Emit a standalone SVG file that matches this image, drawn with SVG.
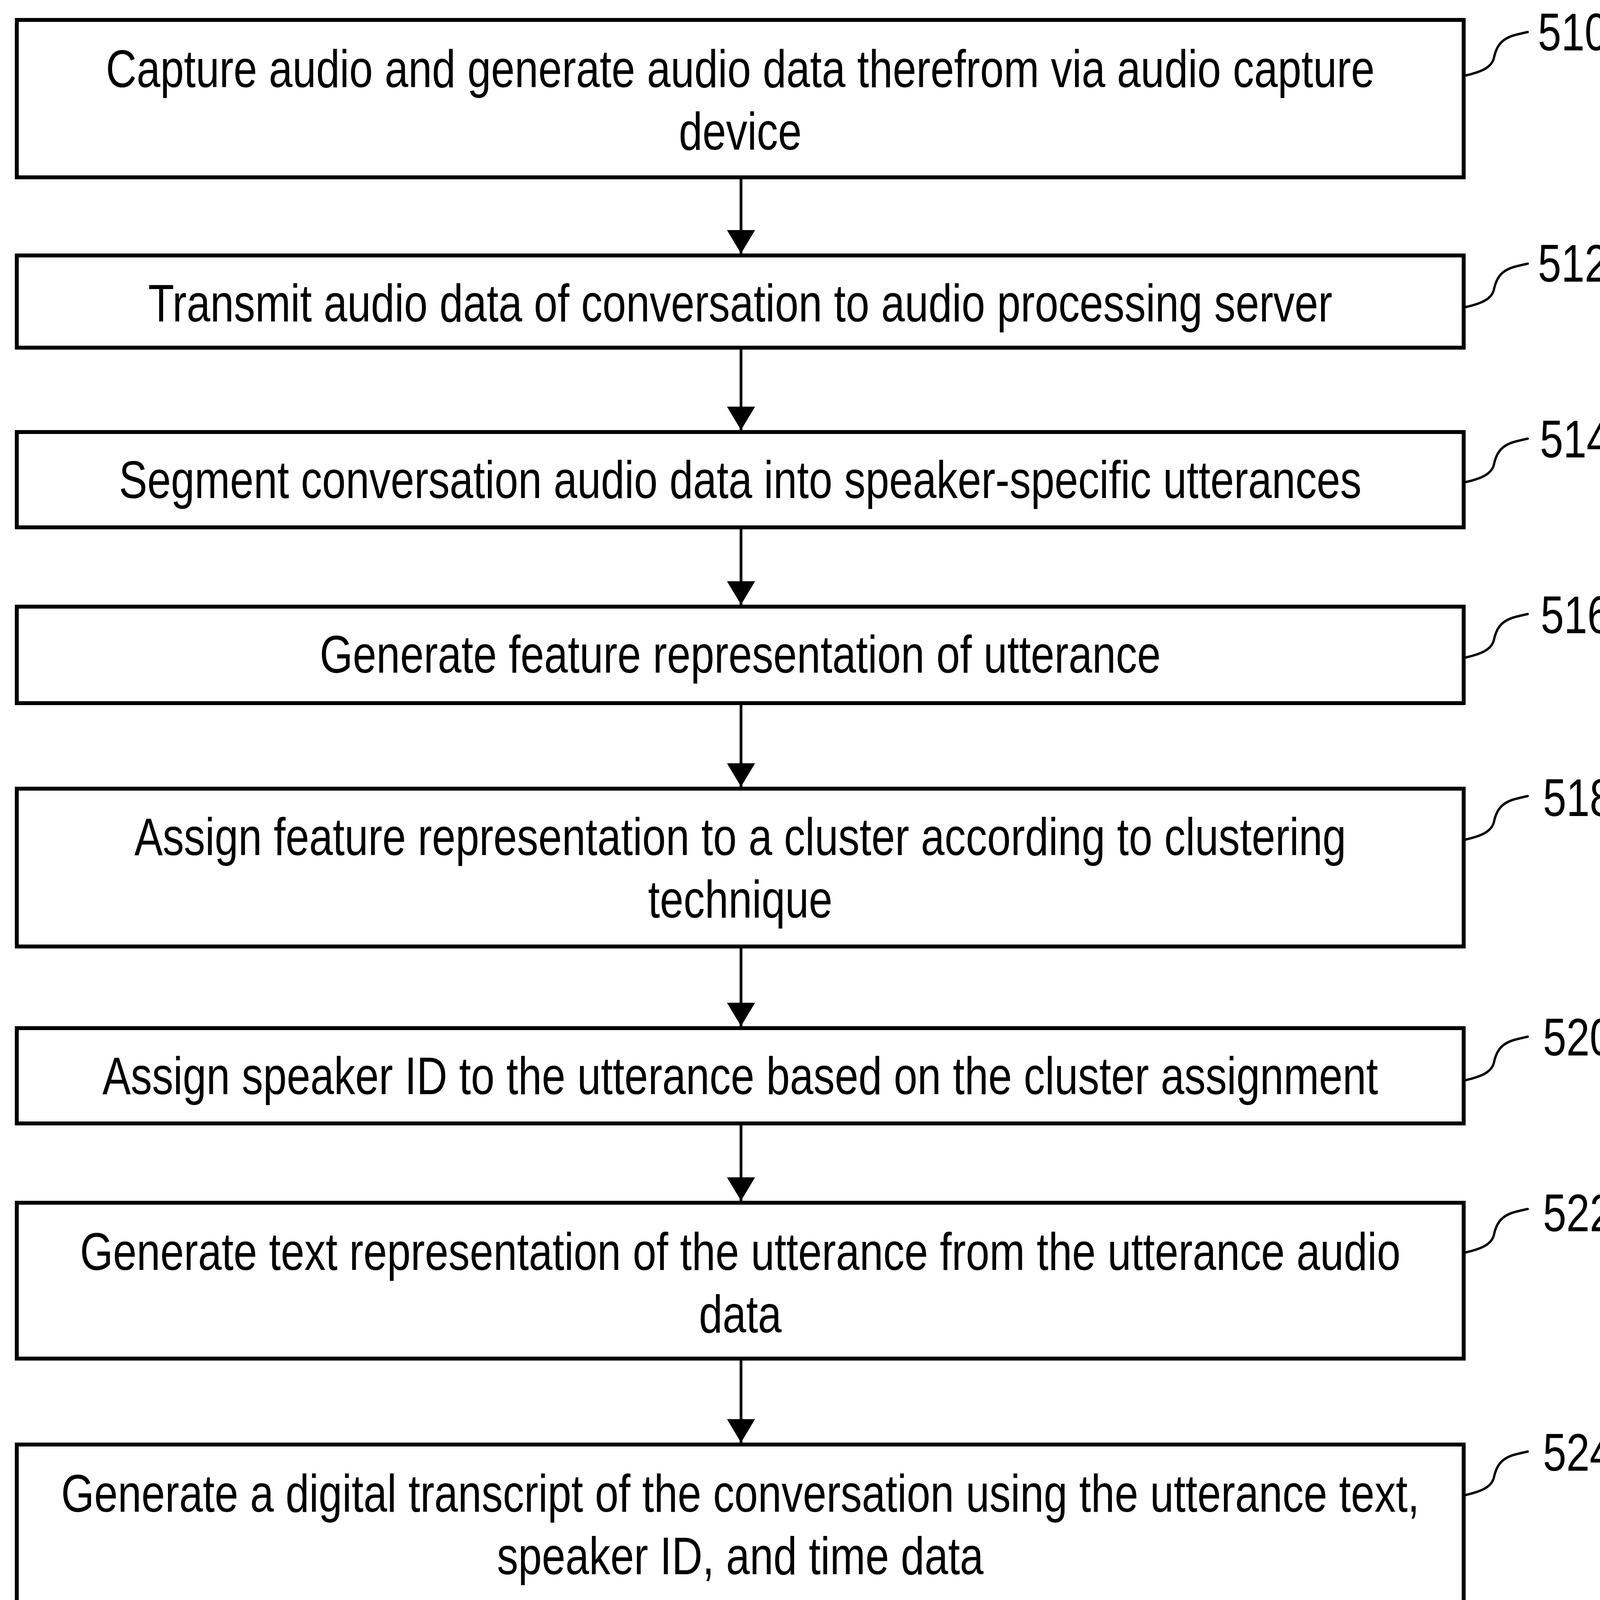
<svg xmlns="http://www.w3.org/2000/svg" xmlns:xlink="http://www.w3.org/1999/xlink" width="4152" height="5026" viewBox="0 0 4152 5026">
<style>
.box{fill:#fff;stroke:#000;stroke-width:10}
.t{font-family:"Liberation Sans",Arial,Helvetica,sans-serif;font-size:136px;fill:#000;text-anchor:middle}
.lbl{font-family:"Liberation Sans",Arial,Helvetica,sans-serif;font-size:136px;fill:#000}
.lead{fill:none;stroke:#000;stroke-width:6;stroke-linecap:round}
.conn{fill:none;stroke:#000;stroke-width:7}
</style>
<defs>
<marker id="ah" markerUnits="userSpaceOnUse" markerWidth="60" markerHeight="72" refX="60" refY="36" orient="auto" viewBox="0 0 60 72">
<path d="M0,0 L60,36 L0,72 Z" fill="#000"/>
</marker>
<path id="sq" class="lead" d="M0,0 c34,-8 64,-18 71,-43 c6,-30 18,-50 53,-60 c12,-3 24,-6 34,-8"/>
</defs>
<rect width="4152" height="5026" fill="#fff"/>
<g id="connectors">
<line class="conn" x1="1897" y1="459" x2="1897" y2="649" marker-end="url(#ah)"/>
<line class="conn" x1="1897" y1="895" x2="1897" y2="1101" marker-end="url(#ah)"/>
<line class="conn" x1="1897" y1="1355" x2="1897" y2="1548" marker-end="url(#ah)"/>
<line class="conn" x1="1897" y1="1805" x2="1897" y2="2014" marker-end="url(#ah)"/>
<line class="conn" x1="1897" y1="2428" x2="1897" y2="2627" marker-end="url(#ah)"/>
<line class="conn" x1="1897" y1="2881" x2="1897" y2="3074" marker-end="url(#ah)"/>
<line class="conn" x1="1897" y1="3483" x2="1897" y2="3693" marker-end="url(#ah)"/>
<line class="conn" x1="1897" y1="4106" x2="1897" y2="4330" marker-end="url(#ah)"/>
<line class="conn" x1="1897" y1="4579" x2="1897" y2="4789" marker-end="url(#ah)"/>
</g>
<g id="n510">
<rect class="box" x="43" y="51" width="3704" height="403"/>
<g transform="translate(1895 0) scale(0.8 1)"><text class="t" x="0" y="223">Capture audio and generate audio data therefrom via audio capture</text><text class="t" x="0" y="383">device</text></g>
<use xlink:href="#sq" x="3753" y="193"/>
<text class="lbl" transform="translate(3937 129) scale(0.79 1)">510</text>
</g>
<g id="n512">
<rect class="box" x="43" y="654" width="3704" height="236"/>
<g transform="translate(1895 0) scale(0.8 1)"><text class="t" x="0" y="823">Transmit audio data of conversation to audio processing server</text></g>
<use xlink:href="#sq" x="3753" y="786"/>
<text class="lbl" transform="translate(3937 721) scale(0.79 1)">512</text>
</g>
<g id="n514">
<rect class="box" x="43" y="1106" width="3704" height="244"/>
<g transform="translate(1895 0) scale(0.8 1)"><text class="t" x="0" y="1275">Segment conversation audio data into speaker-specific utterances</text></g>
<use xlink:href="#sq" x="3753" y="1234"/>
<text class="lbl" transform="translate(3942 1171) scale(0.79 1)">514</text>
</g>
<g id="n516">
<rect class="box" x="43" y="1553" width="3704" height="247"/>
<g transform="translate(1895 0) scale(0.8 1)"><text class="t" x="0" y="1722">Generate feature representation of utterance</text></g>
<use xlink:href="#sq" x="3753" y="1683"/>
<text class="lbl" transform="translate(3944 1621) scale(0.79 1)">516</text>
</g>
<g id="n518">
<rect class="box" x="43" y="2019" width="3704" height="404"/>
<g transform="translate(1895 0) scale(0.8 1)"><text class="t" x="0" y="2189">Assign feature representation to a cluster according to clustering</text><text class="t" x="0" y="2349">technique</text></g>
<use xlink:href="#sq" x="3753" y="2149"/>
<text class="lbl" transform="translate(3950 2089) scale(0.79 1)">518</text>
</g>
<g id="n520">
<rect class="box" x="43" y="2632" width="3704" height="244"/>
<g transform="translate(1895 0) scale(0.8 1)"><text class="t" x="0" y="2801">Assign speaker ID to the utterance based on the cluster assignment</text></g>
<use xlink:href="#sq" x="3753" y="2765"/>
<text class="lbl" transform="translate(3950 2702) scale(0.79 1)">520</text>
</g>
<g id="n522">
<rect class="box" x="43" y="3079" width="3704" height="399"/>
<g transform="translate(1895 0) scale(0.8 1)"><text class="t" x="0" y="3251">Generate text representation of the utterance from the utterance audio</text><text class="t" x="0" y="3411">data</text></g>
<use xlink:href="#sq" x="3753" y="3206"/>
<text class="lbl" transform="translate(3950 3152) scale(0.79 1)">522</text>
</g>
<g id="n524">
<rect class="box" x="43" y="3698" width="3704" height="403"/>
<g transform="translate(1895 0) scale(0.8 1)"><text class="t" x="0" y="3870">Generate a digital transcript of the conversation using the utterance text,</text><text class="t" x="0" y="4030">speaker ID, and time data</text></g>
<use xlink:href="#sq" x="3753" y="3827"/>
<text class="lbl" transform="translate(3950 3765) scale(0.79 1)">524</text>
</g>
<g id="n526">
<rect class="box" x="43" y="4335" width="3704" height="239"/>
<g transform="translate(1895 0) scale(0.8 1)"><text class="t" x="0" y="4504">Display digital transcript for review and approval</text></g>
<use xlink:href="#sq" x="3753" y="4459"/>
<text class="lbl" transform="translate(3950 4405) scale(0.79 1)">526</text>
</g>
<g id="n528">
<rect class="box" x="43" y="4794" width="3704" height="240"/>
<g transform="translate(1895 0) scale(0.8 1)"><text class="t" x="0" y="4965">Incorporate digital transcript into electronic medical record of patient</text></g>
<use xlink:href="#sq" x="3753" y="4920"/>
<text class="lbl" transform="translate(3950 4861) scale(0.79 1)">528</text>
</g>
</svg>
